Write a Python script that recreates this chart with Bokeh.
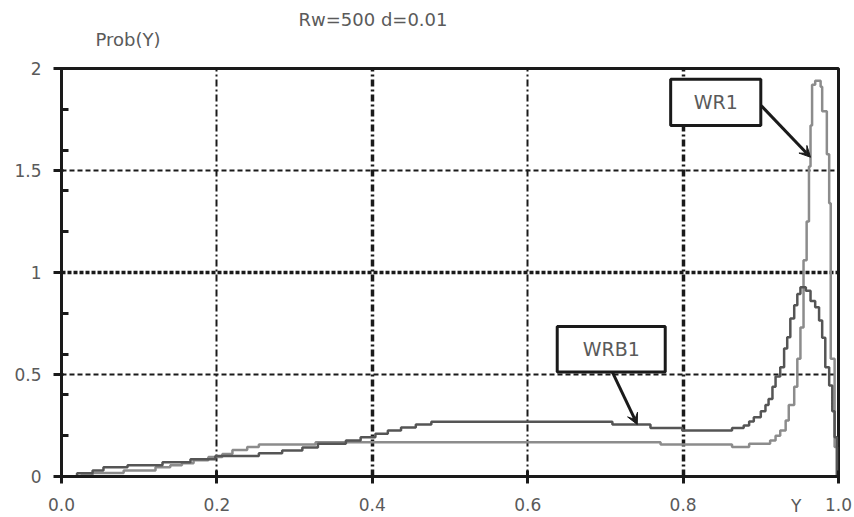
from bokeh.plotting import figure
from bokeh.models import (Range1d, FixedTicker, Grid, BoxAnnotation, Label, Arrow,
                          VeeHead, NumeralTickFormatter, CustomJSTickFormatter, Title)
from bokeh.embed import file_html
from bokeh.resources import INLINE

# ---- data (histogram steps: bin start, value) ----
wrb1_x = [0.000, 0.020, 0.040, 0.054, 0.085, 0.130, 0.166, 0.198, 0.254, 0.284,
          0.310, 0.330, 0.366, 0.385, 0.404, 0.420, 0.437, 0.456, 0.476, 0.709,
          0.758, 0.799, 0.863, 0.878, 0.885, 0.891, 0.900, 0.906, 0.910, 0.915,
          0.919, 0.925, 0.930, 0.934, 0.938, 0.943, 0.947, 0.951, 0.958, 0.964,
          0.970, 0.975, 0.979, 0.983, 0.988, 0.992, 0.995, 0.998, 1.000]
wrb1_y = [0.000, 0.016, 0.030, 0.045, 0.055, 0.070, 0.084, 0.100, 0.114, 0.128,
          0.142, 0.160, 0.176, 0.193, 0.210, 0.225, 0.240, 0.255, 0.268, 0.255,
          0.238, 0.225, 0.238, 0.250, 0.270, 0.290, 0.320, 0.350, 0.380, 0.440,
          0.490, 0.535, 0.627, 0.683, 0.775, 0.840, 0.895, 0.928, 0.910, 0.860,
          0.830, 0.765, 0.680, 0.535, 0.446, 0.320, 0.193, 0.000, 0.000]

wr1_x = [0.000, 0.025, 0.040, 0.080, 0.121, 0.140, 0.155, 0.170, 0.189, 0.207,
         0.220, 0.239, 0.254, 0.327, 0.771, 0.863, 0.885, 0.912, 0.919, 0.925,
         0.932, 0.936, 0.943, 0.947, 0.951, 0.955, 0.959, 0.962, 0.964, 0.966,
         0.970, 0.977, 0.979, 0.985, 0.988, 0.990, 0.995, 0.998, 1.000]
wr1_y = [0.000, 0.005, 0.017, 0.030, 0.045, 0.055, 0.065, 0.080, 0.095, 0.110,
         0.130, 0.145, 0.157, 0.168, 0.157, 0.145, 0.160, 0.176, 0.200, 0.225,
         0.275, 0.350, 0.440, 0.577, 0.730, 1.060, 1.250, 1.520, 1.720, 1.920,
         1.940, 1.910, 1.790, 1.580, 1.340, 0.577, 0.145, 0.000, 0.000]

x_ticks = [0.0, 0.2, 0.4, 0.6, 0.8, 1.0]
y_ticks = [0, 0.5, 1, 1.5, 2]
y_minor = [0.2, 0.4, 0.6, 0.8, 1.2, 1.4, 1.6, 1.8]

title_text = "Rw=500 d=0.01"
ylabel_text = "Prob(Y)"
xlabel_text = "Y"

FONT = "DejaVu Sans"
TXT = "#5a5a5a"
BLACK = "#1a1a1a"

p = figure(width=854, height=517, output_backend="svg", toolbar_location=None,
           x_range=Range1d(0, 1), y_range=Range1d(0, 2),
           min_border_left=61, min_border_right=16, min_border_top=68,
           min_border_bottom=41)
p.background_fill_color = "white"
p.border_fill_color = "white"
p.outline_line_color = BLACK
p.outline_line_width = 3
p.xgrid.visible = False
p.ygrid.visible = False

# chart title (outermost panel)
p.title.text = title_text
p.title.align = "left"
p.title.offset = 237
p.title.vertical_align = "bottom"
p.title.standoff = -40
p.title.text_font = FONT
p.title.text_font_size = "18px"
p.title.text_font_style = "normal"
p.title.text_color = TXT

# y caption (panel nearest the frame)
y_caption = Title(text=ylabel_text, align="left", offset=34, vertical_align="middle",
                  standoff=36, text_font=FONT, text_font_size="18px",
                  text_font_style="normal", text_color=TXT)
p.add_layout(y_caption, "above")

x_caption = Title(text=xlabel_text, align="right", offset=37, vertical_align="top",
                  standoff=-36, text_font=FONT, text_font_size="17px",
                  text_font_style="normal", text_color=TXT)
p.add_layout(x_caption, "below")

# axes
p.xaxis.ticker = FixedTicker(ticks=x_ticks)
p.xaxis.formatter = NumeralTickFormatter(format="0.0")
p.yaxis.ticker = FixedTicker(ticks=y_ticks, minor_ticks=y_minor)
p.yaxis.formatter = CustomJSTickFormatter(code="return String(tick);")
for ax in (p.xaxis[0], p.yaxis[0]):
    ax.axis_line_color = BLACK
    ax.axis_line_width = 3
    ax.major_tick_line_color = BLACK
    ax.major_tick_line_width = 3
    ax.minor_tick_line_color = BLACK
    ax.minor_tick_line_width = 3
    ax.major_label_text_font = FONT
    ax.major_label_text_font_size = "17px"
    ax.major_label_text_color = TXT
p.xaxis.major_tick_in = 6
p.xaxis.major_tick_out = 7
p.xaxis.minor_tick_in = 0
p.xaxis.minor_tick_out = 0
p.xaxis.major_label_standoff = 14
p.yaxis.major_tick_in = 2
p.yaxis.major_tick_out = 8
p.yaxis.minor_tick_in = 7
p.yaxis.minor_tick_out = 0
p.yaxis.major_label_standoff = 12

# grid lines (two weights, like the scan)
def add_grid(dim, ticks, width, dash):
    g = Grid(dimension=dim, ticker=FixedTicker(ticks=ticks))
    g.grid_line_color = BLACK
    g.grid_line_width = width
    g.grid_line_dash = dash
    p.add_layout(g)

add_grid(0, [0.2, 0.6], 2, "7 3 2 3")
add_grid(0, [0.4, 0.8], 3.5, "7 3 2 3")
add_grid(1, [0.5, 1.5], 2, "5 3")
add_grid(1, [1.0], 3.5, "4 2")

# curves
p.step(wr1_x, wr1_y, mode="after", line_color="#8c8c8c", line_width=2.5)
p.step(wrb1_x, wrb1_y, mode="after", line_color="#555555", line_width=2.5)

# annotation boxes + arrows
for (l, r, b, t, txt, ax0, ay0, ax1, ay1) in [
    (0.638, 0.777, 0.512, 0.735, "WRB1", 0.709, 0.512, 0.741, 0.255),
    (0.784, 0.900, 1.720, 1.947, "WR1", 0.900, 1.820, 0.964, 1.565),
]:
    p.add_layout(Arrow(x_start=ax0, y_start=ay0, x_end=ax1, y_end=ay1,
                       line_color=BLACK, line_width=3,
                       end=VeeHead(size=11, fill_color=BLACK, line_color=BLACK)))
    p.add_layout(BoxAnnotation(left=l, right=r, bottom=b, top=t,
                               fill_color="white", fill_alpha=1.0,
                               line_color=BLACK, line_width=3, line_alpha=1.0))
    p.add_layout(Label(x=(l + r) / 2, y=(b + t) / 2, text=txt,
                       text_align="center", text_baseline="middle",
                       text_font=FONT, text_font_size="19px", text_color=TXT))

open("out.html", "w").write(file_html(p, INLINE))
